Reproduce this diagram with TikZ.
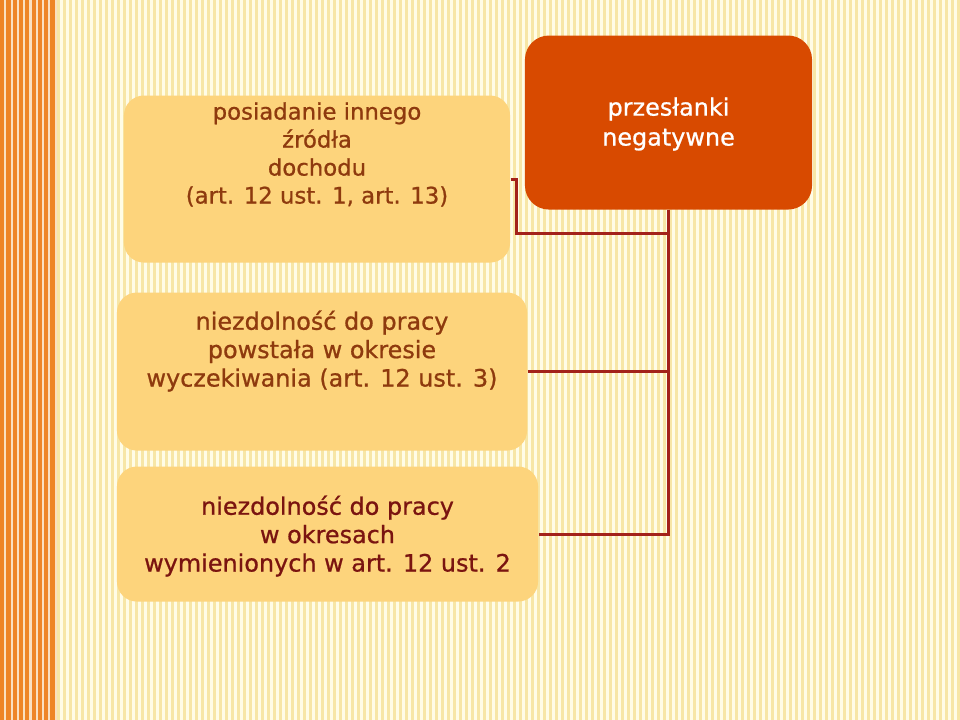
\documentclass[tikz,border=0pt]{standalone}
\usepackage{fontspec}
\setmainfont[BoldFont={DejaVu Sans}, BoldFeatures={FakeBold=0.8}]{DejaVu Sans}
\definecolor{tlo}{HTML}{FFFCE6}
\definecolor{pasek}{HTML}{F7E6A6}
\definecolor{pomar}{HTML}{EE8526}
\definecolor{pomarjasny}{HTML}{FAE0C0}
\definecolor{zloty}{HTML}{FDD47C}
\definecolor{czerw}{HTML}{D84A00}
\definecolor{braz}{HTML}{8E3A0E}
\definecolor{bordo}{HTML}{7A1410}
\definecolor{linia}{HTML}{A3221A}
\tikzset{every picture/.style={line width=0.75pt}}
\tikzset{
  prbox/.style  ={rectangle, rounded corners=0.5cm, fill=zloty, anchor=north,
                  align=center, inner xsep=0pt, inner ysep=0pt,
                  font=\fontsize{17}{20.2}\selectfont\bfseries},
  prneg/.style  ={prbox, rounded corners=0.6cm, fill=czerw, text=white,
                  font=\fontsize{17}{21.3}\selectfont\bfseries},
  prlink/.style ={draw=linia, line width=2.1pt},
}

\begin{document}
\begin{tikzpicture}[x=0.025cm, y=-0.025cm]
        \useasboundingbox (0,0) rectangle (960,720);
        % tlo w paski
        \fill[tlo] (0,0) rectangle (960,720);
        \foreach \i in {0,...,160}
          \fill[pasek] (57+6*\i,0) rectangle (59.5+6*\i,720);
        \fill[pomarjasny] (0,0) rectangle (57,720);
        \foreach \i in {0,...,8}
          \fill[pomar] (6.3*\i,0) rectangle (4.2+6.3*\i,720);
        % prostokaty
        \node[prneg, minimum width=7.175cm, text height=2.75cm, text depth=1.6cm]
          (neg) at (668.5,35) {przesłanki\\negatywne};
        \node[prbox, text=braz, minimum width=9.65cm, text height=2.7cm, text depth=1.475cm,
          font=\fontsize{16.2}{19.9}\selectfont\bfseries]
          (src) at (317,95) {posiadanie innego\\źródła\\dochodu\\(art. 12 ust. 1, art. 13)};
        \node[prbox, text=braz, minimum width=10.25cm, text height=2.35cm, text depth=1.6cm]
          (wait) at (322,292) {niezdolność do pracy\\powstała w okresie\\wyczekiwania (art. 12 ust. 3)};
        \node[prbox, text=bordo, minimum width=10.525cm, text height=2.625cm, text depth=0.75cm]
          (per) at (327.5,466) {niezdolność do pracy\\w okresach\\wymienionych w art. 12 ust. 2};
        % polaczenia
        \draw[prlink] (neg.south) -- (neg.south |- per.east) -- (per.east);
        \draw[prlink] (wait.east) -- (wait.east -| neg.south);
        \draw[prlink] (src.east) -- ++(6,0) |- ([yshift=-0.575cm]neg.south);
    \end{tikzpicture}
\end{document}
